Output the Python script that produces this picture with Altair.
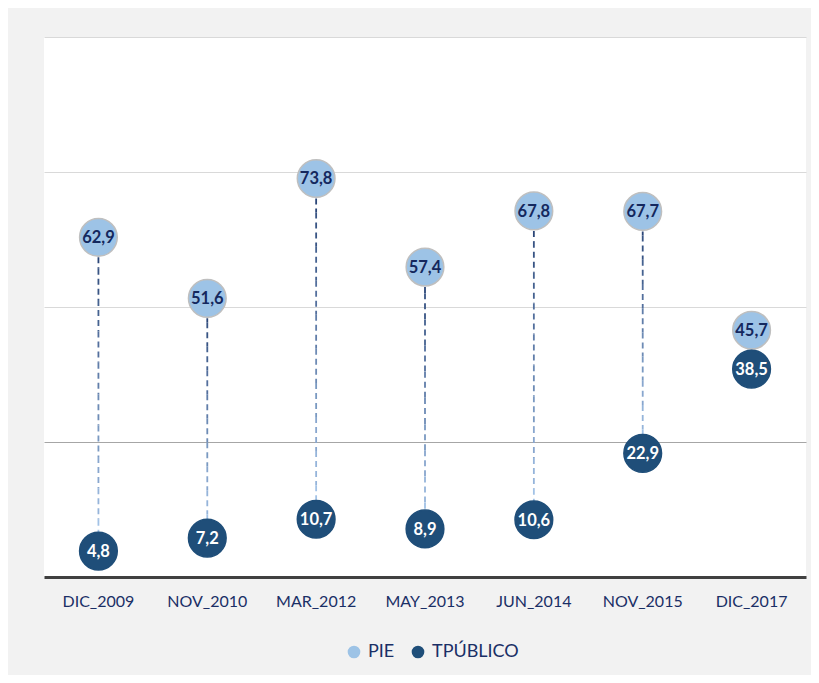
import altair as alt
import pandas as pd

categorias = ["DIC_2009", "NOV_2010", "MAR_2012", "MAY_2013", "JUN_2014", "NOV_2015", "DIC_2017"]
pie = [62.9, 51.6, 73.8, 57.4, 67.8, 67.7, 45.7]
tpublico = [4.8, 7.2, 10.7, 8.9, 10.6, 22.9, 38.5]
series = ["PIE", "TPÚBLICO"]
colores = ["#9DC3E6", "#1F4E79"]
navy = "#1A2F66"
FONT = "Lato"

def fmt(v):
    return f"{v:.1f}".replace(".", ",")

rows = []
for c, p, t in zip(categorias, pie, tpublico):
    rows.append({"cat": c, "serie": "PIE", "v": p, "lbl": fmt(p), "tc": "#14285E"})
    rows.append({"cat": c, "serie": "TPÚBLICO", "v": t, "lbl": fmt(t), "tc": "#FFFFFF"})
pts = pd.DataFrame(rows)

# dashed connector, split in pieces so its colour fades from dark (top) to light (bottom)
N = 10
dark = (0x24, 0x3F, 0x72)
light = (0xA9, 0xC9, 0xEC)
segs = []
for c, p, t in zip(categorias, pie, tpublico):
    for k in range(N):
        f = (k + 0.5) / N
        col = "#%02X%02X%02X" % tuple(int(round(d + (l - d) * f)) for d, l in zip(dark, light))
        segs.append({"cat": c, "y": p + (t - p) * k / N, "y2": p + (t - p) * (k + 1) / N, "col": col})
segdf = pd.DataFrame(segs)

xenc = alt.X(
    "cat:N", sort=categorias,
    scale=alt.Scale(paddingInner=0, paddingOuter=0),
    axis=alt.Axis(title=None, labelAngle=0, ticks=False, domainColor="#404040", domainWidth=3,
                  labelPadding=16, labelFont=FONT, labelFontSize=16, labelColor=navy, grid=False),
)
yscale = alt.Scale(domain=[0, 100], nice=False, zero=True)
yaxis = alt.Axis(title=None, labels=False, ticks=False, domain=False, values=[25, 50, 75, 100],
                 gridColor=alt.condition(alt.datum.value == 25, alt.value("#A6A6A6"), alt.value("#D9D9D9")),
                 gridWidth=1)

rules = alt.Chart(segdf).mark_rule(strokeDash=[6, 4], strokeWidth=1.8).encode(
    x=xenc,
    y=alt.Y("y:Q", scale=yscale, axis=yaxis),
    y2="y2:Q",
    color=alt.Color("col:N", scale=None),
)

circles = alt.Chart(pts).mark_circle(size=1420, opacity=1).encode(
    x=xenc,
    y=alt.Y("v:Q", scale=yscale),
    color=alt.Color("serie:N", scale=alt.Scale(domain=series, range=colores),
                    legend=alt.Legend(title=None, orient="none", direction="horizontal",
                                      legendX=301, legendY=606, symbolType="circle", symbolSize=160,
                                      labelFont=FONT, labelFontSize=18, labelColor=navy,
                                      columnPadding=14, labelOffset=5, symbolStrokeWidth=0)),
    stroke=alt.Stroke("serie:N", scale=alt.Scale(domain=series, range=["#BFBFBF", "#1F4E79"]), legend=None),
    strokeWidth=alt.value(1.5),
)

texts = alt.Chart(pts).mark_text(font=FONT, fontSize=16.5, fontWeight="bold", baseline="middle", align="center", dy=1).encode(
    x=xenc,
    y=alt.Y("v:Q", scale=yscale),
    text="lbl:N",
    color=alt.Color("tc:N", scale=None),
)

chart = alt.layer(rules, circles, texts).properties(
    width=762, height=540,
    autosize=alt.AutoSizeParams(type="none"),
    padding={"left": 36, "top": 29, "right": 5, "bottom": 98},
    background="#F2F2F2",
).configure_view(fill="#FFFFFF", stroke=None)

chart.save("out.html", embed_options={"renderer": "svg", "actions": False})
